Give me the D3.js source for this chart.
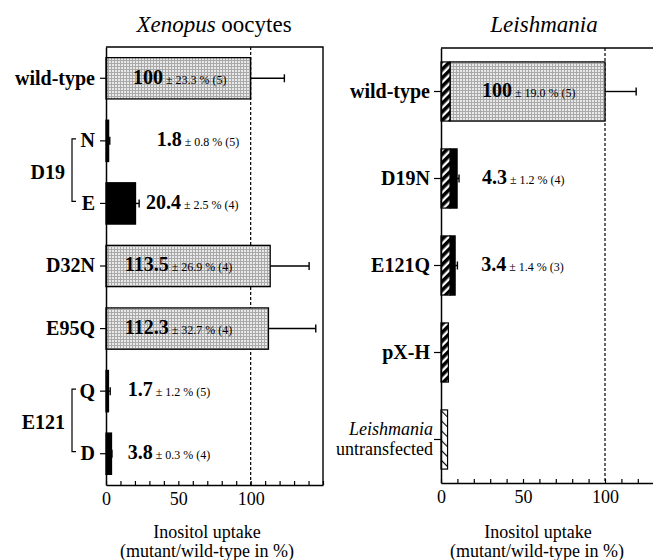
<!DOCTYPE html>
<html>
<head>
<meta charset="utf-8">
<script src="https://cdn.jsdelivr.net/npm/d3@7"></script>
<style>
  body { margin: 0; background: #fff; }
  svg { display: block; font-family: "Liberation Serif", "Times New Roman", serif; }
</style>
</head>
<body>
<svg id="chart" width="653" height="560"></svg>
<script>
// ---- data ----
const leftCats = ["wild-type", "N", "E", "D32N", "E95Q", "Q", "D"];
const leftMean = [100, 1.8, 20.4, 113.5, 112.3, 1.7, 3.8];
const leftSD = [23.3, 0.8, 2.5, 26.9, 32.7, 1.2, 0.3];
const leftN = [5, 5, 4, 4, 4, 5, 4];
const leftGroups = [
    {name: "D19", from: "N", to: "E"},
    {name: "E121", from: "Q", to: "D"}
];

const rightCats = ["wild-type", "D19N", "E121Q", "pX-H", "untransfected"];
const rightBackground = [5.5, 5.5, 5.5, 4.5, 4];   // hatched (host background) part
const rightBarEnd = [100, 9.8, 8.6];                // end of the transporter part
const rightMean = [100, 4.3, 3.4];
const rightSD = [19.0, 1.2, 1.4];
const rightN = [5, 4, 3];

const xTicks = d3.range(0, 151, 10);
const xTickLabels = [0, 50, 100];

// ---- layout ----
const svg = d3.select("#chart");
const defs = svg.append("defs");

// stippled gray fill
const stip = defs.append("pattern").attr("id", "stipple")
    .attr("patternUnits", "userSpaceOnUse").attr("width", 3).attr("height", 3);
stip.append("rect").attr("width", 3).attr("height", 3).attr("fill", "#e9e9e9");
stip.append("rect").attr("width", 3).attr("height", 1).attr("fill", "#a9a9a9");
stip.append("rect").attr("width", 1).attr("height", 3).attr("fill", "#a9a9a9");

// thick hatch
const hatch = defs.append("pattern").attr("id", "hatch")
    .attr("patternUnits", "userSpaceOnUse").attr("width", 6).attr("height", 6)
    .attr("patternTransform", "rotate(45)");
hatch.append("rect").attr("width", 6).attr("height", 6).attr("fill", "#fff");
hatch.append("rect").attr("width", 3.6).attr("height", 6).attr("fill", "#000");

// thin hatch
const thin = defs.append("pattern").attr("id", "thinhatch")
    .attr("patternUnits", "userSpaceOnUse").attr("width", 7).attr("height", 7)
    .attr("patternTransform", "rotate(-45)");
thin.append("rect").attr("width", 7).attr("height", 7).attr("fill", "#fff");
thin.append("rect").attr("width", 1.1).attr("height", 7).attr("fill", "#000");

const fillFor = v => v > 50 ? "url(#stipple)" : "#000";

function errorBar(g, x0, x1, y) {
    g.append("line").attr("x1", x0).attr("x2", x1).attr("y1", y).attr("y2", y)
        .attr("stroke", "#000").attr("stroke-width", 1.4);
    g.append("line").attr("x1", x1).attr("x2", x1).attr("y1", y - 4).attr("y2", y + 4)
        .attr("stroke", "#000").attr("stroke-width", 1.4);
}

function valueLabel(g, x, y, mean, sd, n) {
    const t = g.append("text").attr("x", x).attr("y", y).attr("dy", "0.33em");
    t.append("tspan").attr("font-weight", "bold").attr("font-size", 20).text(mean);
    t.append("tspan").attr("font-size", 12).text(` ± ${sd.toFixed(1)} % (${n})`);
}

function styleXAxis(g) {
    g.select(".domain").attr("stroke-width", 1.5);
    g.selectAll(".tick line").attr("stroke-width", 1.2);
    g.selectAll(".tick text").attr("font-size", 18).attr("font-family", "Liberation Serif");
}

// ================= left panel: Xenopus oocytes =================
const xL = d3.scaleLinear().domain([0, 150]).range([106, 323]);
const yL = d3.scaleBand().domain(leftCats).range([47, 485]).paddingInner(0.34).paddingOuter(0.17);
const left = svg.append("g");

left.append("text").attr("x", 214).attr("y", 32).attr("text-anchor", "middle").attr("font-size", 23)
    .call(t => {
        t.append("tspan").attr("font-style", "italic").text("Xenopus");
        t.append("tspan").text(" oocytes");
    });

// frame (top and right)
left.append("path")
    .attr("d", `M${xL(0)},${yL.range()[0]}H${xL(150)}V${yL.range()[1]}`)
    .attr("fill", "none").attr("stroke", "#000").attr("stroke-width", 1.4);

// 100 % reference
left.append("line").attr("x1", xL(100)).attr("x2", xL(100))
    .attr("y1", yL.range()[0]).attr("y2", yL.range()[1])
    .attr("stroke", "#000").attr("stroke-width", 1.2).attr("stroke-dasharray", "3,2");

left.selectAll("rect.bar").data(leftCats).join("rect").attr("class", "bar")
    .attr("x", xL(0))
    .attr("y", d => yL(d))
    .attr("width", (d, i) => xL(leftMean[i]) - xL(0))
    .attr("height", yL.bandwidth())
    .attr("fill", (d, i) => fillFor(leftMean[i]))
    .attr("stroke", "#000").attr("stroke-width", 1.3);

leftCats.forEach((c, i) => {
    const yc = yL(c) + yL.bandwidth() / 2;
    errorBar(left, xL(leftMean[i]), xL(leftMean[i] + leftSD[i]), yc);
});

const leftLabelX = [18.6, 35, 27.6, 13, 13, 15, 15];
leftCats.forEach((c, i) => {
    const yc = yL(c) + yL.bandwidth() / 2;
    valueLabel(left, xL(leftLabelX[i]), yc, leftMean[i], leftSD[i], leftN[i]);
});

left.append("g").attr("transform", `translate(${xL(0)},0)`)
    .call(d3.axisLeft(yL).tickSize(6).tickPadding(5).tickSizeOuter(0))
    .call(g => {
        g.select(".domain").attr("stroke-width", 1.5);
        g.selectAll(".tick line").attr("stroke-width", 1.2);
        g.selectAll(".tick text").attr("font-size", 20).attr("font-weight", "bold")
            .attr("font-family", "Liberation Serif").attr("fill", "#000");
    });

left.append("g").attr("transform", `translate(0,${yL.range()[1]})`)
    .call(d3.axisBottom(xL).tickValues(xTicks).tickSize(-4).tickSizeOuter(0).tickPadding(7)
        .tickFormat(d => xTickLabels.includes(d) ? d : ""))
    .call(styleXAxis);

// group brackets
leftGroups.forEach(gr => {
    const y0 = yL(gr.from) + yL.bandwidth() / 2 - 2;
    const y1 = yL(gr.to) + yL.bandwidth() / 2 - 2;
    left.append("path").attr("d", `M76,${y0}H72V${y1}H76`)
        .attr("fill", "none").attr("stroke", "#000").attr("stroke-width", 1.2);
    left.append("text").attr("x", 65).attr("y", (y0 + y1) / 2 + 2).attr("dy", "0.33em")
        .attr("text-anchor", "end").attr("font-size", 20).attr("font-weight", "bold")
        .text(gr.name);
});

left.append("text").attr("x", 207).attr("y", 538).attr("text-anchor", "middle")
    .attr("font-size", 18).text("Inositol uptake");
left.append("text").attr("x", 207).attr("y", 557).attr("text-anchor", "middle")
    .attr("font-size", 18).text("(mutant/wild-type in %)");

// ================= right panel: Leishmania =================
const xR = d3.scaleLinear().domain([0, 130]).range([441, 441 + 130 * 1.64]);
const yR = d3.scaleBand().domain(rightCats).range([48, 483]).paddingInner(0.32).paddingOuter(0.16);
const right = svg.append("g");

right.append("text").attr("x", 544).attr("y", 32).attr("text-anchor", "middle").attr("font-size", 23)
    .attr("font-style", "italic").text("Leishmania");

right.append("line").attr("x1", xR(0)).attr("x2", xR(130))
    .attr("y1", yR.range()[0]).attr("y2", yR.range()[0])
    .attr("stroke", "#000").attr("stroke-width", 1.4);

right.append("line").attr("x1", xR(100)).attr("x2", xR(100))
    .attr("y1", yR.range()[0]).attr("y2", yR.range()[1])
    .attr("stroke", "#000").attr("stroke-width", 1.2).attr("stroke-dasharray", "3,2");

// transporter part
right.selectAll("rect.spec").data(rightBarEnd).join("rect").attr("class", "spec")
    .attr("x", (d, i) => xR(rightBackground[i]))
    .attr("y", (d, i) => yR(rightCats[i]))
    .attr("width", (d, i) => xR(d) - xR(rightBackground[i]))
    .attr("height", yR.bandwidth())
    .attr("fill", d => fillFor(d))
    .attr("stroke", "#000").attr("stroke-width", 1.3);

// background (hatched) part
right.selectAll("rect.bg").data(rightBackground).join("rect").attr("class", "bg")
    .attr("x", xR(0))
    .attr("y", (d, i) => yR(rightCats[i]))
    .attr("width", d => xR(d) - xR(0))
    .attr("height", yR.bandwidth())
    .attr("fill", (d, i) => rightCats[i] === "untransfected" ? "url(#thinhatch)" : "url(#hatch)")
    .attr("stroke", "#000").attr("stroke-width", 1.2);

rightBarEnd.forEach((e, i) => {
    const yc = yR(rightCats[i]) + yR.bandwidth() / 2;
    errorBar(right, xR(e), xR(e + rightSD[i]), yc);
});

const rightLabelX = [25, 25, 24.5];
rightMean.forEach((m, i) => {
    const yc = yR(rightCats[i]) + yR.bandwidth() / 2;
    valueLabel(right, xR(rightLabelX[i]), yc, m, rightSD[i], rightN[i]);
});

right.append("g").attr("transform", `translate(${xR(0)},0)`)
    .call(d3.axisLeft(yR).tickSize(7).tickPadding(4).tickSizeOuter(0))
    .call(g => {
        g.select(".domain").attr("stroke-width", 1.5);
        g.selectAll(".tick line").attr("stroke-width", 1.2);
        g.selectAll(".tick text").attr("font-size", 20).attr("font-weight", "bold")
            .attr("font-family", "Liberation Serif").attr("fill", "#000")
            .filter(d => d === "untransfected")
            .attr("font-weight", "normal").attr("font-size", 18).attr("dy", null)
            .text(null)
            .call(t => {
                t.append("tspan").attr("x", -8).attr("y", -5).attr("font-style", "italic").text("Leishmania");
                t.append("tspan").attr("x", -8).attr("y", 15).text("untransfected");
            });
    });

right.append("g").attr("transform", `translate(0,${yR.range()[1]})`)
    .call(d3.axisBottom(xR).tickValues(xTicks.filter(d => d <= 130)).tickSize(-4).tickSizeOuter(0).tickPadding(7)
        .tickFormat(d => xTickLabels.includes(d) ? d : ""))
    .call(styleXAxis);

right.append("text").attr("x", 538).attr("y", 538).attr("text-anchor", "middle")
    .attr("font-size", 18).text("Inositol uptake");
right.append("text").attr("x", 537).attr("y", 557).attr("text-anchor", "middle")
    .attr("font-size", 18).text("(mutant/wild-type in %)");
</script>
</body>
</html>
